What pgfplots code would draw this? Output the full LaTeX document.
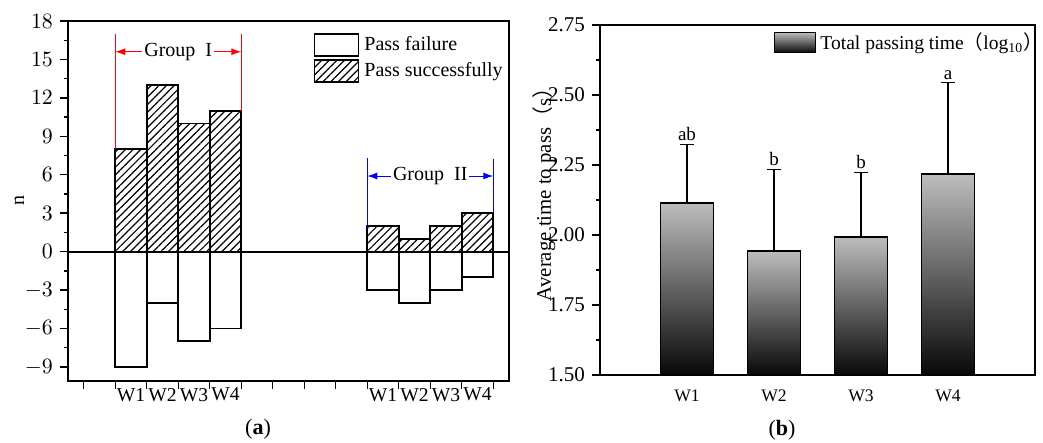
\documentclass[border=0pt]{standalone}
\usepackage{pgfplots}
\usepackage{pgfplotstable}
\pgfplotsset{compat=1.18}
\usepackage{fontspec}
\setmainfont{Liberation Serif}
\newfontfamily\cjk{Noto Sans CJK SC}
\usetikzlibrary{patterns,patterns.meta,arrows.meta}

% Pass counts per group (W1..W4 of Group I at 2.5..5.5, Group II at 10.5..13.5)
\pgfplotstableread{
x    fail  succ
2.5  -9    8
3.5  -4    13
4.5  -7    10
5.5  -6    11
10.5 -3    2
11.5 -4    1
12.5 -3    2
13.5 -2    3
}\passdata

% Mean log10 passing time with upper error and its top
\pgfplotstableread{
x  mean   err   top   lab
1  2.115  0.209 2.324 ab
2  1.943  0.292 2.235 b
3  1.994  0.229 2.223 b
4  2.218  0.326 2.544 a
}\timedata

\begin{document}
\begin{tikzpicture}[x=0.5pt,y=0.5pt]
\useasboundingbox (0,0) rectangle (1043,443);
\pgfplotsset{
  common/.style={
    scale only axis,
    anchor=south west,
    tick align=outside,
    xtick pos=left, ytick pos=left,
    axis line style={line width=0.9pt},
    tick style={line width=0.7pt, black},
    major tick length=4pt, minor tick length=2.2pt,
    font=\fontsize{10}{12}\selectfont,
    yticklabel style={font=\fontsize{10.5}{12}\selectfont},
    /pgf/number format/assume math mode=true,
    legend cell align=left,
  },
  timebar/.style={ybar, bar width=0.61, bar shift=0pt, draw=black, line width=0.9pt,
    top color=black!26, bottom color=black!97},
}

% ---------------- (a) ----------------
\begin{axis}[common,
  at={(34pt,31pt)}, width=220.5pt, height=180pt,
  xmin=0.5, xmax=14.5, ymin=-10.1, ymax=18,
  ytick={-9,-6,...,18}, minor y tick num=1,
  yticklabel={$\pgfmathprintnumber{\tick}$},
  xtick={1,...,14}, xticklabels={},
  extra x ticks={2.5,3.5,4.5,5.5,10.5,11.5,12.5,13.5},
  extra x tick labels={W1,W2,W3,W4,W1,W2,W3,W4},
  extra x tick style={major tick length=0pt,
    xticklabel style={inner xsep=0pt, font=\fontsize{9.8}{12}\selectfont}},
  ylabel={n},
  ylabel style={at={(axis description cs:-0.11,0.5)}, anchor=center},
  legend style={at={(axis description cs:0.556,0.967)}, anchor=north west,
    draw=none, fill=none, row sep=1.2pt, inner sep=0pt,
    nodes={inner xsep=2.5pt, inner ysep=0.5pt}},
  legend image code/.code={\draw[#1,line width=0.9pt] (0pt,-5.5pt) rectangle (22pt,5.5pt);},
]
\addplot[ybar, bar width=1, bar shift=0pt, fill=white, draw=black, line width=0.9pt]
  table[x=x, y=fail] {\passdata};
\addlegendentry{Pass failure}
\addplot[ybar, bar width=1, bar shift=0pt, draw=black, line width=0.9pt,
  pattern={Lines[angle=45, distance=2.7pt, line width=0.6pt]}]
  table[x=x, y=succ] {\passdata};
\addlegendentry{Pass successfully}
\addplot[black, line width=0.9pt, forget plot] coordinates {(0.5,0) (14.5,0)};

% Group brackets
\addplot[red, line width=0.5pt, forget plot] coordinates {(2,8) (2,17)};
\addplot[red, line width=0.5pt, forget plot] coordinates {(6,11) (6,17)};
\draw[red, line width=0.5pt, {Latex[length=5pt,width=3.5pt]}-{Latex[length=5pt,width=3.5pt]}]
  (axis cs:2,15.6) -- (axis cs:6,15.6);
\node[fill=white, inner xsep=1pt, inner ysep=1pt] at (axis cs:4,15.6) {Group\ \ I};

\addplot[blue, line width=0.5pt, forget plot] coordinates {(10,2) (10,7.3)};
\addplot[blue, line width=0.5pt, forget plot] coordinates {(14,3) (14,7.2)};
\draw[blue, line width=0.5pt, {Latex[length=5pt,width=3.5pt]}-{Latex[length=5pt,width=3.5pt]}]
  (axis cs:10,5.9) -- (axis cs:14,5.9);
\node[fill=white, inner xsep=1pt, inner ysep=1pt] at (axis cs:12,5.9) {Group\ \ II};
\end{axis}

% ---------------- (b) ----------------
% the y axis is offset so that bars rise from 1.50
\begin{axis}[common,
  at={(300pt,34pt)}, width=217.5pt, height=175pt,
  y coord trafo/.code={\pgfmathparse{#1-1.5}},
  y coord inv trafo/.code={\pgfmathparse{#1+1.5}},
  xmin=0, xmax=5, ymin=1.5, ymax=2.75,
  ytick={1.5,1.75,2,2.25,2.5,2.75}, minor y tick num=1,
  yticklabel style={/pgf/number format/.cd, fixed, fixed zerofill, precision=2},
  xtick={1,2,3,4}, xticklabels={W1,W2,W3,W4},
  xticklabel style={font=\fontsize{8.8}{11}\selectfont},
  x tick style={draw=none},
  ylabel={Average time to pass{\cjk （}s{\cjk ）}},
  ylabel style={at={(axis description cs:-0.128,0.53)}, anchor=center,
    font=\fontsize{10.4}{12}\selectfont},
  legend style={at={(axis description cs:1.028,0.985)}, anchor=north east,
    draw=none, fill=none, inner sep=0pt, font=\fontsize{9.8}{12}\selectfont,
    nodes={inner xsep=2pt, inner ysep=1pt}},
  legend image code/.code={\draw[#1,line width=0.9pt] (0pt,-5pt) rectangle (20.5pt,5pt);},
]
% one plot per bar so that each bar carries its own gradient
\addplot[timebar] coordinates {(1,2.115)};
\addlegendentry{Total passing time{\cjk （}log\textsubscript{10}{\cjk ）}}
\addplot[timebar, forget plot] coordinates {(2,1.943)};
\addplot[timebar, forget plot] coordinates {(3,1.994)};
\addplot[timebar, forget plot] coordinates {(4,2.218)};

% upper error bars
\addplot[draw=none, mark=none, forget plot,
  error bars/.cd, y dir=plus, y explicit,
  error bar style={draw=black, line width=0.6pt},
  error mark options={draw=black, rotate=90, mark size=3.7pt, line width=0.6pt}]
  table[x=x, y=mean, y error=err] {\timedata};

% significance letters above the error caps
\addplot[draw=none, mark=none, forget plot,
  nodes near coords, point meta=explicit symbolic,
  nodes near coords style={anchor=south, inner sep=1.5pt, font=\fontsize{9.5}{11}\selectfont}]
  table[x=x, y=top, meta=lab] {\timedata};
\end{axis}

\node[font=\fontsize{11}{13}\selectfont] at (258,14) {(\textbf{a})};
\node[font=\fontsize{11}{13}\selectfont] at (782,13) {(\textbf{b})};
\end{tikzpicture}
\end{document}
